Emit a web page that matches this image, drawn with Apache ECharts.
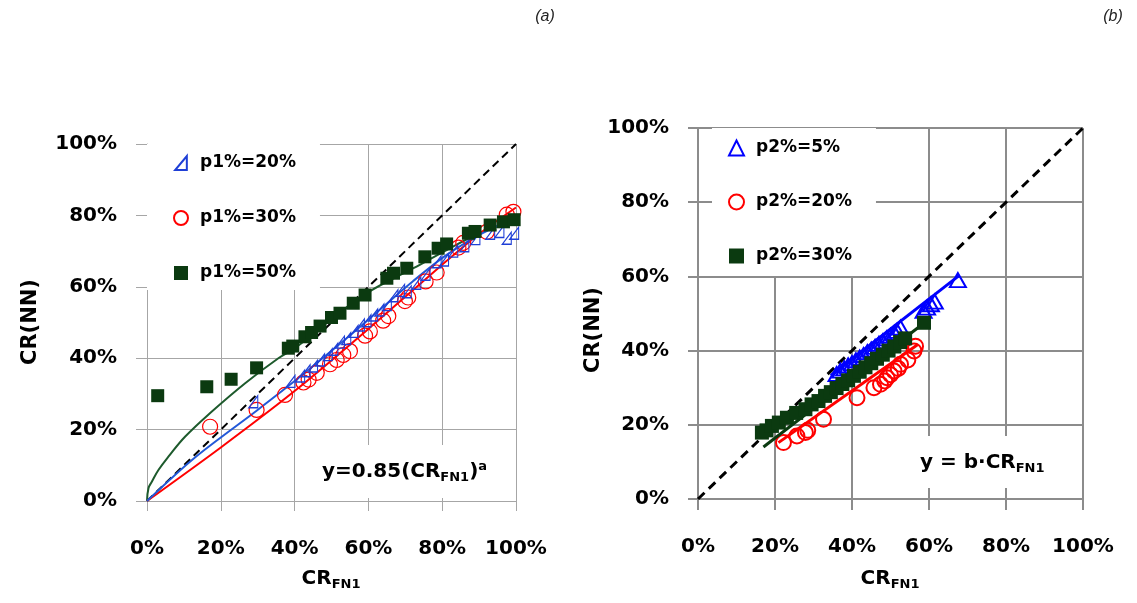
<!DOCTYPE html>
<html>
<head>
<meta charset="utf-8">
<script src="https://cdn.jsdelivr.net/npm/echarts@6/dist/echarts.min.js"></script>
<style>
  html, body { margin: 0; padding: 0; background: #fff; }
  #chart { width: 1137px; height: 603px; }
</style>
</head>
<body>
<div id="chart"></div>
<script>
// axis ticks (percent)
const tickMin = 0
const tickMax = 100
const tickStep = 20

// 1:1 reference line
const diagLine = [[0, 0], [100, 100]]

// (a) left panel – scatter points [CR_FN1 %, CR(NN) %]
const p1_20 = [[28.8, 27.8], [38.9, 33.5], [41.5, 35.0], [43.0, 36.5], [45.0, 37.8], [46.9, 39.5], [49.0, 41.0],
  [50.5, 42.5], [52.3, 44.5], [54.0, 45.5], [56.0, 47.5], [57.7, 49.3], [59.5, 50.5], [61.3, 52.1], [63.0, 53.5],
  [65.0, 55.0], [66.8, 57.5], [68.6, 59.0], [70.4, 58.6], [73.0, 61.0], [75.5, 63.5], [78.5, 67.0], [80.5, 67.5],
  [83.0, 70.0], [86.0, 71.5], [89.0, 73.5], [93.0, 75.0], [95.5, 75.5], [97.5, 73.6], [99.5, 75.0]]
const p1_30 = [[17.1, 20.8], [29.7, 25.5], [37.4, 29.7], [42.4, 33.2], [43.8, 34.0], [46.0, 35.9], [49.6, 38.3],
  [51.4, 39.5], [53.2, 40.9], [55.0, 42.0], [59.1, 46.3], [60.4, 47.5], [64.0, 50.5], [65.4, 51.8], [69.9, 56.0],
  [70.8, 57.0], [75.5, 61.5], [78.5, 64.0], [84.4, 71.0], [85.7, 72.3], [92.1, 75.4], [97.5, 80.2], [99.3, 81.0]]
const p1_50 = [[2.9, 29.5], [16.2, 32.0], [22.8, 34.1], [29.7, 37.3], [38.3, 42.8], [39.5, 43.4], [42.8, 46.0],
  [44.6, 47.2], [46.9, 49.0], [50.0, 51.4], [52.3, 52.6], [55.9, 55.4], [59.1, 57.7], [65.0, 62.4], [66.8, 63.8],
  [70.4, 65.2], [75.3, 68.4], [78.9, 70.8], [81.2, 72.0], [87.1, 75.0], [88.9, 75.5], [93.0, 77.3], [96.6, 78.2],
  [99.5, 78.8]]

// (a) fitted curves
const fit1_20 = [[0, 0], [13, 12.2], [29.7, 25.3], [40, 33.6], [54, 45.5], [63, 53.5], [72, 61.5],
  [81, 68.8], [90, 74.5], [100, 79.5]]
const fit1_30 = [[0, 0], [20, 15.0], [40, 30.8], [60, 48.2], [80, 66.2], [90, 74.8], [100, 82.2]]
const fit1_50 = [[0, 0], [0.4, 3.6], [1.3, 5.4], [3.1, 8.7], [5.8, 12.4], [10.3, 18.0], [17.5, 25.0], [26.6, 33.0],
  [35.6, 40.0], [40.6, 43.2], [50, 51.0], [60, 58.5], [72.2, 65.2], [81.2, 70.3], [90.2, 75.0], [100, 78.6]]

// (b) right panel – scatter points
const p2_5 = [[36.0, 33.7], [37.0, 34.6], [38.0, 35.2], [39.0, 36.0], [40.0, 36.6], [41.0, 37.4], [42.0, 38.1],
  [43.0, 38.8], [44.0, 39.6], [45.0, 40.3], [46.0, 41.0], [47.0, 41.8], [48.0, 42.5], [49.0, 43.3], [50.0, 44.0],
  [51.0, 44.8], [51.7, 45.3], [52.6, 46.2], [58.6, 50.7], [59.5, 51.6], [60.5, 52.5], [61.5, 53.2], [67.5, 59.0]]
const p2_20 = [[22.2, 15.2], [25.7, 17.0], [27.9, 17.9], [28.5, 18.5], [32.6, 21.5], [41.3, 27.3], [45.7, 30.0],
  [47.4, 30.9], [48.5, 31.8], [49.1, 32.7], [50.0, 33.5], [50.9, 34.5], [52.0, 35.2], [52.6, 36.3], [54.5, 37.5],
  [56.1, 39.9], [56.5, 41.2]]
const p2_30 = [[16.6, 17.9], [17.8, 18.5], [19.2, 19.7], [21.0, 20.6], [23.1, 21.9], [25.5, 23.2], [27.9, 24.2],
  [29.5, 25.5], [31.3, 26.4], [33.0, 27.8], [34.5, 28.8], [36.0, 29.9], [37.5, 31.0], [39.0, 32.0], [40.5, 33.2],
  [42.0, 34.3], [43.5, 35.5], [45.0, 36.6], [46.5, 37.8], [48.0, 38.9], [49.5, 40.0], [51.0, 41.1], [52.5, 42.3],
  [53.8, 43.3], [58.7, 47.5]]

// (b) linear fits
const fit2_5 = [[34.5, 33.3], [67.8, 60.2]]
const fit2_20 = [[20.9, 15.2], [57.0, 41.6]]
const fit2_30 = [[17.0, 14.0], [58.3, 47.1]]

const FONT = 'DejaVu Sans'
const BLUE_A = '#1f3fd6'
const RED = '#ff0000'
const GREEN_DARK = '#0b3a10'

const chart = echarts.init(document.getElementById('chart'))

// axis factory
const makeAxis = (gridIndex, opts) => ({
  type: 'value',
  gridIndex,
  min: tickMin,
  max: tickMax,
  interval: tickStep,
  axisLine: { show: true, lineStyle: { color: opts.lineColor, width: opts.lineWidth } },
  axisTick: { show: true, inside: false, length: opts.tickLen, lineStyle: { color: opts.lineColor, width: opts.lineWidth } },
  splitLine: { show: true, lineStyle: { color: opts.lineColor, width: opts.lineWidth } },
  axisLabel: {
    formatter: '{value}%',
    fontFamily: FONT,
    fontWeight: 'bold',
    fontSize: 20,
    color: '#000',
    margin: opts.margin
  }
})

const lineSeries = (data, color, width, idx, extra = {}) => ({
  type: 'line',
  data,
  xAxisIndex: idx,
  yAxisIndex: idx,
  symbol: 'none',
  silent: true,
  smooth: extra.smooth || false,
  lineStyle: { color, width, type: extra.dash || 'solid' },
  z: extra.z || 2
})

const subRich = {
  base: { fontFamily: FONT, fontWeight: 'bold', fontSize: 20, lineHeight: 24, fill: '#000', verticalAlign: 'middle' },
  sub: { fontFamily: FONT, fontWeight: 'bold', fontSize: 13, lineHeight: 13, fill: '#000', verticalAlign: 'bottom' },
  sup: { fontFamily: FONT, fontWeight: 'bold', fontSize: 13, lineHeight: 13, fill: '#000', verticalAlign: 'top' }
}

const legendText = {
  fontFamily: FONT,
  fontWeight: 'bold',
  fontSize: 17,
  lineHeight: 20,
  color: '#000',
  padding: [0, 0, 0, 7]
}

const option = {
  backgroundColor: '#fff',
  animation: false,
  grid: [
    { left: 147, right: 621, top: 144, bottom: 102 },
    { left: 698, right: 54, top: 128, bottom: 104 }
  ],
  xAxis: [
    makeAxis(0, { lineColor: '#a6a6a6', lineWidth: 1, tickLen: 10, margin: 38 }),
    makeAxis(1, { lineColor: '#8c8c8c', lineWidth: 2, tickLen: 11, margin: 38 })
  ],
  yAxis: [
    makeAxis(0, { lineColor: '#a6a6a6', lineWidth: 1, tickLen: 11, margin: 30 }),
    makeAxis(1, { lineColor: '#8c8c8c', lineWidth: 2, tickLen: 10, margin: 29 })
  ],
  legend: [
    {
      left: 147, top: 144, orient: 'vertical',
      data: ['p1%=20%', 'p1%=30%', 'p1%=50%'],
      padding: [9, 24, 7, 26], itemGap: 35, itemWidth: 14, itemHeight: 14,
      backgroundColor: '#fff', selectedMode: false, textStyle: legendText
    },
    {
      left: 712, top: 128, orient: 'vertical',
      data: ['p2%=5%', 'p2%=20%', 'p2%=30%'],
      padding: [10, 24, 10, 16], itemGap: 34, itemWidth: 15, itemHeight: 15,
      backgroundColor: '#fff', selectedMode: false, textStyle: legendText
    }
  ],
  series: [
    // panel (a)
    lineSeries(diagLine, '#000', 2, 0, { dash: [8, 5] }),
    lineSeries(fit1_50, '#1d5a2c', 2, 0, { smooth: 0.4 }),
    lineSeries(fit1_30, RED, 2, 0, { smooth: 0.3 }),
    lineSeries(fit1_20, '#2258d8', 2, 0, { smooth: 0.3 }),
    {
      name: 'p1%=30%', type: 'scatter', xAxisIndex: 0, yAxisIndex: 0, data: p1_30,
      symbol: 'circle', symbolSize: 15,
      itemStyle: { color: 'transparent', borderColor: RED, borderWidth: 1.2, opacity: 1 }, z: 3
    },
    {
      name: 'p1%=20%', type: 'scatter', xAxisIndex: 0, yAxisIndex: 0, data: p1_20,
      symbol: 'path://M10,0L10,12L0,12Z', symbolSize: [9, 12],
      itemStyle: { color: 'transparent', borderColor: BLUE_A, borderWidth: 1.2, opacity: 1 }, z: 4
    },
    {
      name: 'p1%=50%', type: 'scatter', xAxisIndex: 0, yAxisIndex: 0, data: p1_50,
      symbol: 'rect', symbolSize: 13,
      itemStyle: { color: GREEN_DARK, opacity: 1 }, z: 5
    },
    // panel (b)
    lineSeries(diagLine, '#000', 3, 1, { dash: [9, 6] }),
    lineSeries(fit2_20, RED, 3, 1),
    lineSeries(fit2_5, '#0000ff', 3, 1),
    {
      name: 'p2%=5%', type: 'scatter', xAxisIndex: 1, yAxisIndex: 1, data: p2_5,
      symbol: 'triangle', symbolSize: [16, 14],
      itemStyle: { color: 'transparent', borderColor: '#0000ff', borderWidth: 2, opacity: 1 }, z: 3
    },
    {
      name: 'p2%=20%', type: 'scatter', xAxisIndex: 1, yAxisIndex: 1, data: p2_20,
      symbol: 'circle', symbolSize: 15,
      itemStyle: { color: 'transparent', borderColor: RED, borderWidth: 2, opacity: 1 }, z: 3
    },
    lineSeries(fit2_30, GREEN_DARK, 3, 1, { z: 4 }),
    {
      name: 'p2%=30%', type: 'scatter', xAxisIndex: 1, yAxisIndex: 1, data: p2_30,
      symbol: 'rect', symbolSize: 14,
      itemStyle: { color: GREEN_DARK, opacity: 1 }, z: 5
    }
  ],
  graphic: [
    // panel labels
    { type: 'text', x: 545, y: 17, z: 100, style: { text: '(a)', font: 'italic 16px "Liberation Sans"', fill: '#222', align: 'center', verticalAlign: 'middle' } },
    { type: 'text', x: 1113, y: 17, z: 100, style: { text: '(b)', font: 'italic 16px "Liberation Sans"', fill: '#222', align: 'center', verticalAlign: 'middle' } },
    // y-axis titles
    { type: 'text', x: 31, y: 322, rotation: Math.PI / 2, z: 100, style: { text: 'CR(NN)', font: 'bold 21px "DejaVu Sans"', fill: '#000', align: 'center', verticalAlign: 'middle' } },
    { type: 'text', x: 594, y: 330, rotation: Math.PI / 2, z: 100, style: { text: 'CR(NN)', font: 'bold 21px "DejaVu Sans"', fill: '#000', align: 'center', verticalAlign: 'middle' } },
    // x-axis titles
    { type: 'text', x: 331, y: 579, z: 100, style: { text: '{base|CR}{sub|FN1}', rich: subRich, align: 'center', verticalAlign: 'middle' } },
    { type: 'text', x: 890, y: 579, z: 100, style: { text: '{base|CR}{sub|FN1}', rich: subRich, align: 'center', verticalAlign: 'middle' } },
    // fit annotations
    {
      type: 'text', x: 312, y: 445, z: 100,
      style: {
        text: '{base|y=0.85(CR}{sub|FN1}{base|)}{sup|a}', rich: subRich,
        backgroundColor: '#fff', padding: [15, 22, 14, 10], align: 'left', verticalAlign: 'top'
      }
    },
    {
      type: 'text', x: 912, y: 436, z: 100,
      style: {
        text: '{base|y = b·CR}{sub|FN1}', rich: subRich,
        backgroundColor: '#fff', padding: [15, 24, 13, 8], align: 'left', verticalAlign: 'top'
      }
    }
  ]
}

chart.setOption(option)
</script>
</body>
</html>
